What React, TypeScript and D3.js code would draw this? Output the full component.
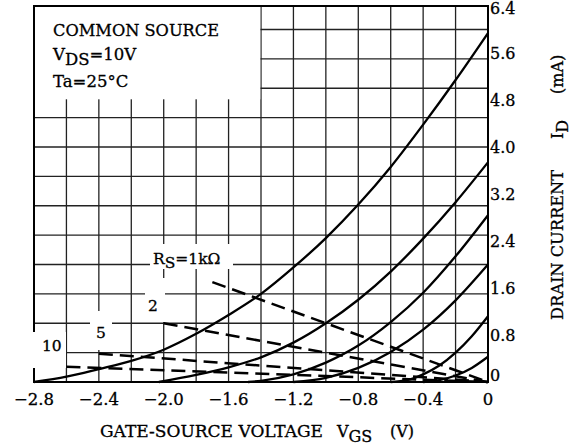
import React from 'react';
import * as d3 from 'd3';

const W = 576;
const H = 448;

// Axis ticks
const X_TICKS = [-2.8, -2.4, -2.0, -1.6, -1.2, -0.8, -0.4, 0];
const Y_TICKS = [0, 0.8, 1.6, 2.4, 3.2, 4.0, 4.8, 5.6, 6.4];

// Solid transfer curves (VGS in V, ID in mA)
const vgsA = [-2.8, -2.6, -2.4, -2.2, -2.0, -1.8, -1.6, -1.4, -1.2, -1.0, -0.8, -0.6, -0.4, -0.2, 0];
const idA = [0, 0.09, 0.22, 0.36, 0.55, 0.82, 1.14, 1.5, 1.95, 2.45, 3.02, 3.66, 4.38, 5.14, 5.94];

const vgsB = [-2.03, -1.8, -1.6, -1.4, -1.2, -1.0, -0.8, -0.6, -0.4, -0.2, 0];
const idB = [0, 0.12, 0.25, 0.42, 0.67, 1.0, 1.4, 1.88, 2.44, 3.06, 3.74];

const vgsC = [-1.48, -1.4, -1.2, -1.0, -0.8, -0.6, -0.4, -0.2, 0];
const idC = [0, 0.02, 0.13, 0.33, 0.62, 1.02, 1.52, 2.14, 2.84];

const vgsD = [-1.2, -1.0, -0.8, -0.6, -0.4, -0.2, 0];
const idD = [0, 0.07, 0.24, 0.51, 0.89, 1.39, 2.0];

const vgsE = [-0.6, -0.5, -0.4, -0.3, -0.2, -0.1, 0];
const idE = [0, 0.03, 0.13, 0.28, 0.5, 0.78, 1.12];

const vgsF = [-0.4, -0.3, -0.2, -0.1, 0];
const idF = [0, 0.03, 0.11, 0.24, 0.43];

// Dashed load lines (RS = 1k, 2k, 5k, 10k)
const loadV1 = [-1.7, 0];
const loadI1 = [1.7, 0];
const loadV2 = [-2.0, 0];
const loadI2 = [1.0, 0];
const loadV5 = [-2.4, 0];
const loadI5 = [0.48, 0];
const loadV10 = [-2.6, 0];
const loadI10 = [0.26, 0];

const FONT = '"DejaVu Serif", serif';

export default function App() {
  const x = d3.scaleLinear().domain([-2.8, 0]).range([34, 488]);
  const y = d3.scaleLinear().domain([0, 6.4]).range([382, 6]);

  const solid = [
    [vgsA, idA],
    [vgsB, idB],
    [vgsC, idC],
    [vgsD, idD],
    [vgsE, idE],
    [vgsF, idF],
  ];
  const dashed = [
    [loadV1, loadI1],
    [loadV2, loadI2],
    [loadV5, loadI5],
    [loadV10, loadI10],
  ];

  const line = d3
    .line<[number, number]>()
    .x((d) => x(d[0]))
    .y((d) => y(d[1]))
    .curve(d3.curveMonotoneX);
  const straight = d3
    .line<[number, number]>()
    .x((d) => x(d[0]))
    .y((d) => y(d[1]));

  const zip = (a: number[], b: number[]) => a.map((v, i) => [v, b[i]] as [number, number]);

  const xGrid = x.ticks(14);
  const yGrid = y.ticks(16);

  const fmtX = (v: number) => (v === 0 ? '0' : '\u2212' + Math.abs(v).toFixed(1));
  const fmtY = (v: number) => (v === 0 ? '0' : v.toFixed(1));
  const yLabelPos = (v: number) => (v === 0 ? y(v) - 7 : v === 6.4 ? y(v) + 2 : y(v));

  const ink = { fill: '#000', stroke: '#000', strokeWidth: 0.3 };

  return (
    <svg
      width={W}
      height={H}
      style={{ position: 'fixed', left: 0, top: 0, background: '#fff' }}
      fontFamily={FONT}
    >
      <rect x={0} y={0} width={W} height={H} fill="#fff" />
      {/* grid */}
      {xGrid.map((v) => (
        <line key={'gx' + v} x1={x(v)} x2={x(v)} y1={y(0)} y2={y(6.4)} stroke="#222" strokeWidth={1.3} />
      ))}
      {yGrid.map((v) => (
        <line key={'gy' + v} x1={x(-2.8)} x2={x(0)} y1={y(v)} y2={y(v)} stroke="#222" strokeWidth={1.3} />
      ))}
      {/* frame */}
      <rect x={x(-2.8)} y={y(6.4)} width={x(0) - x(-2.8)} height={y(0) - y(6.4)} fill="none" stroke="#000" strokeWidth={2} />

      {/* white boxes for legend and labels */}
      <rect x={35} y={7} width={225.3} height={92.3} fill="#fff" />
      <rect x={150} y={244} width={83} height={25} fill="#fff" />
      <rect x={145} y={278} width={20} height={44} fill="#fff" />
      <rect x={90} y={311} width={22} height={39} fill="#fff" />
      <rect x={32} y={332} width={34} height={36} fill="#fff" />

      {/* solid curves */}
      {solid.map((s, i) => (
        <path key={'s' + i} d={line(zip(s[0], s[1])) || ''} fill="none" stroke="#000" strokeWidth={2.3} />
      ))}
      {/* dashed load lines */}
      {dashed.map((s, i) => (
        <path
          key={'d' + i}
          d={straight(zip(s[0], s[1])) || ''}
          fill="none"
          stroke="#000"
          strokeWidth={2.5}
          strokeDasharray="14 7"
        />
      ))}

      <g {...ink}>
        {/* legend text */}
        <text x={53} y={36} fontSize={16.5} textLength={166} lengthAdjust="spacingAndGlyphs">COMMON SOURCE</text>
        <text x={53} y={60} fontSize={16.5}>
          V<tspan dy={5}>DS</tspan>
          <tspan dy={-5}>=10V</tspan>
        </text>
        <text x={53} y={87} fontSize={16.5}>Ta=25°C</text>

        {/* curve labels */}
        <text x={153} y={264} fontSize={15.5}>
          R<tspan dy={4}>S</tspan>
          <tspan dy={-4}>=1kΩ</tspan>
        </text>
        <text x={148} y={311} fontSize={15.5}>2</text>
        <text x={96} y={338} fontSize={15.5}>5</text>
        <text x={42} y={351} fontSize={15.5}>10</text>

        {/* x tick labels */}
        {X_TICKS.map((v) => (
          <text key={'xt' + v} x={x(v)} y={405} fontSize={16.5} textAnchor="middle">
            {fmtX(v)}
          </text>
        ))}
        {/* y tick labels */}
        {Y_TICKS.map((v) => (
          <text key={'yt' + v} x={490} y={yLabelPos(v)} fontSize={16} dominantBaseline="central">
            {fmtY(v)}
          </text>
        ))}

        {/* x title */}
        <text x={100} y={437} fontSize={16}>
          <tspan textLength={223} lengthAdjust="spacingAndGlyphs">GATE-SOURCE VOLTAGE</tspan>
          <tspan x={337}>V</tspan>
          <tspan dy={5}>GS</tspan>
          <tspan x={390} dy={-5}>(V)</tspan>
        </text>

        {/* y title */}
        <g transform="translate(563, 320) rotate(-90)">
          <text x={0} y={0} fontSize={16}>
            <tspan textLength={150} lengthAdjust="spacingAndGlyphs">DRAIN CURRENT</tspan>
            <tspan x={181}>I</tspan>
            <tspan dy={5}>D</tspan>
            <tspan x={226} dy={-5}>(mA)</tspan>
          </text>
        </g>
      </g>
    </svg>
  );
}
